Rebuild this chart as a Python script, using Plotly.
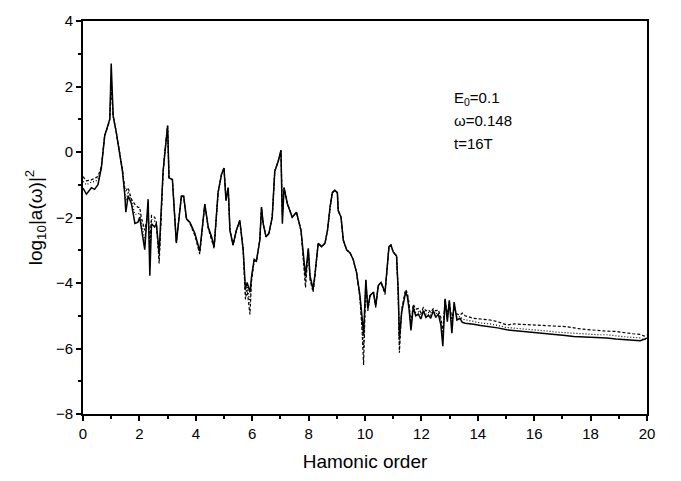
import plotly.graph_objects as go

harmonic = [0.00, 0.12, 0.30, 0.41, 0.53, 0.65, 0.77, 0.89, 0.95, 1.00, 1.07, 1.18, 1.30, 1.40, 1.48, 1.52, 1.60, 1.72, 1.84, 1.95,
            2.01, 2.07, 2.19, 2.31, 2.37, 2.43, 2.54, 2.60, 2.70, 2.84, 2.90, 3.00, 3.05, 3.17, 3.31, 3.49, 3.57, 3.67, 3.79, 3.97,
            4.14, 4.22, 4.32, 4.44, 4.56, 4.65, 4.79, 4.91, 5.00, 5.07, 5.15, 5.21, 5.32, 5.44, 5.56, 5.68, 5.76, 5.82, 5.92, 5.98,
            6.07, 6.15, 6.27, 6.33, 6.39, 6.49, 6.59, 6.71, 6.80, 6.92, 7.02, 7.07, 7.13, 7.25, 7.42, 7.57, 7.73, 7.81, 7.89, 7.99,
            8.05, 8.16, 8.22, 8.34, 8.46, 8.58, 8.67, 8.76, 8.84, 8.93, 9.02, 9.05, 9.15, 9.23, 9.35, 9.47, 9.58, 9.70, 9.82, 9.90,
            9.95, 10.03, 10.10, 10.18, 10.30, 10.38, 10.47, 10.57, 10.71, 10.85, 10.92, 11.00, 11.12, 11.18, 11.22, 11.30, 11.35, 11.44, 11.50, 11.56,
            11.63, 11.71, 11.80, 11.89, 11.98, 12.07, 12.16, 12.25, 12.33, 12.42, 12.51, 12.60, 12.69, 12.76, 12.84, 12.92, 12.99, 13.08, 13.16, 13.26,
            13.37, 13.45, 13.55, 13.70, 13.85, 14.10, 14.44, 14.70, 15.03, 15.30, 15.62, 15.90, 16.20, 16.50, 16.80, 17.10, 17.40, 17.70, 17.99, 18.30,
            18.58, 18.90, 19.17, 19.50, 19.76, 19.90, 20.00]

solid = [-1.10, -1.29, -1.09, -1.14, -1.00, -0.49, 0.50, 0.81, 1.00, 2.70, 1.10, 0.60, 0.00, -0.59, -1.29, -1.84, -1.34, -1.58, -2.18, -2.14,
         -1.99, -2.29, -2.98, -1.44, -3.78, -2.19, -2.29, -2.19, -3.08, -0.59, 0.00, 0.80, -0.79, -0.84, -2.78, -1.34, -1.34, -2.04, -2.14, -2.49,
         -3.03, -2.38, -1.59, -2.29, -2.59, -2.89, -1.24, -0.69, -0.49, -1.49, -1.09, -2.39, -2.84, -2.39, -2.09, -2.99, -4.18, -3.98, -4.28, -3.78,
         -3.28, -3.33, -2.69, -1.69, -2.19, -2.59, -2.49, -1.99, -0.59, -0.29, 0.05, -2.19, -1.09, -1.59, -1.99, -1.84, -2.39, -3.08, -3.78, -2.94,
         -3.78, -4.18, -3.78, -2.79, -2.89, -2.79, -2.39, -1.69, -1.24, -1.17, -1.24, -1.79, -1.99, -2.69, -2.99, -3.08, -3.28, -3.68, -4.38, -5.08,
         -5.60, -3.90, -4.78, -4.38, -4.28, -4.70, -4.08, -3.98, -4.28, -2.89, -2.84, -3.05, -3.18, -4.28, -5.68, -4.90, -4.68, -4.28, -4.40, -4.78,
         -5.45, -4.75, -5.00, -4.95, -5.10, -4.85, -5.05, -4.98, -5.08, -4.85, -5.05, -4.95, -5.28, -5.93, -4.48, -5.18, -4.53, -5.53, -4.58, -5.13,
         -5.08, -5.20, -5.23, -5.24, -5.26, -5.30, -5.33, -5.37, -5.43, -5.45, -5.48, -5.50, -5.53, -5.56, -5.58, -5.60, -5.63, -5.64, -5.66, -5.67,
         -5.68, -5.71, -5.73, -5.74, -5.76, -5.72, -5.68]

dotted = [-0.90, -1.00, -0.92, -0.90, -0.85, -0.47, 0.50, 0.80, 1.00, 2.30, 1.10, 0.60, 0.00, -0.57, -1.20, -1.50, -1.20, -1.50, -1.90, -1.90,
          -1.85, -2.15, -2.70, -1.70, -3.20, -2.05, -2.10, -2.15, -3.25, -0.62, 0.00, 0.80, -0.79, -0.84, -2.76, -1.34, -1.36, -2.04, -2.16, -2.52,
          -3.08, -2.38, -1.59, -2.31, -2.62, -2.91, -1.24, -0.69, -0.49, -1.45, -1.09, -2.39, -2.84, -2.39, -2.09, -2.99, -4.35, -4.10, -4.60, -3.85,
          -3.30, -3.33, -2.69, -1.69, -2.19, -2.59, -2.49, -1.99, -0.59, -0.29, 0.05, -2.00, -1.09, -1.59, -1.99, -1.84, -2.39, -3.15, -3.95, -2.96,
          -3.85, -4.23, -3.80, -2.79, -2.89, -2.79, -2.39, -1.69, -1.24, -1.17, -1.24, -1.79, -1.99, -2.69, -2.99, -3.08, -3.28, -3.68, -4.40, -5.30,
          -6.00, -3.92, -4.80, -4.38, -4.28, -4.72, -4.08, -3.98, -4.30, -2.89, -2.84, -3.05, -3.18, -4.35, -5.90, -4.85, -4.62, -4.25, -4.35, -4.70,
          -5.35, -4.70, -4.90, -4.88, -4.98, -4.82, -4.95, -4.90, -4.98, -4.82, -4.95, -4.90, -5.15, -5.70, -4.50, -5.10, -4.55, -5.30, -4.65, -5.05,
          -5.02, -5.10, -5.12, -5.15, -5.18, -5.22, -5.25, -5.30, -5.36, -5.38, -5.40, -5.42, -5.43, -5.47, -5.50, -5.52, -5.53, -5.55, -5.57, -5.58,
          -5.58, -5.62, -5.64, -5.66, -5.68, -5.74, -5.70]

dashed = [-0.75, -0.88, -0.85, -0.80, -0.75, -0.45, 0.50, 0.80, 1.00, 2.00, 1.10, 0.60, 0.00, -0.55, -1.10, -1.19, -1.09, -1.44, -1.60, -1.69,
          -1.69, -2.00, -2.39, -1.90, -2.90, -1.94, -1.99, -2.14, -3.40, -0.65, 0.00, 0.80, -0.79, -0.84, -2.74, -1.34, -1.38, -2.04, -2.18, -2.55,
          -3.12, -2.38, -1.59, -2.33, -2.65, -2.95, -1.24, -0.69, -0.49, -1.40, -1.09, -2.39, -2.84, -2.39, -2.09, -2.99, -4.50, -4.20, -4.96, -3.90,
          -3.32, -3.33, -2.69, -1.69, -2.19, -2.59, -2.49, -1.99, -0.59, -0.29, 0.05, -1.90, -1.09, -1.59, -1.99, -1.84, -2.39, -3.20, -4.14, -3.00,
          -3.90, -4.28, -3.85, -2.79, -2.89, -2.79, -2.39, -1.69, -1.24, -1.17, -1.24, -1.79, -1.99, -2.69, -2.99, -3.08, -3.28, -3.68, -4.45, -5.50,
          -6.50, -3.95, -4.85, -4.38, -4.28, -4.75, -4.08, -3.98, -4.35, -2.89, -2.84, -3.05, -3.18, -4.40, -6.13, -4.80, -4.55, -4.20, -4.30, -4.60,
          -5.25, -4.65, -4.80, -4.78, -4.90, -4.75, -4.85, -4.82, -4.90, -4.78, -4.85, -4.82, -5.05, -5.50, -4.50, -5.00, -4.58, -5.10, -4.75, -4.95,
          -4.98, -4.92, -5.00, -5.05, -5.08, -5.10, -5.13, -5.18, -5.28, -5.25, -5.26, -5.28, -5.30, -5.31, -5.32, -5.33, -5.38, -5.41, -5.43, -5.46,
          -5.47, -5.48, -5.52, -5.55, -5.57, -5.62, -5.58]

x_ticks = [0, 2, 4, 6, 8, 10, 12, 14, 16, 18, 20]
y_ticks = [-8, -6, -4, -2, 0, 2, 4]
labels = ["E<sub>0</sub>=0.1", "ω=0.148", "t=16T"]
label_y = [1.62, 0.95, 0.27]

FONT = "Liberation Sans, Arial"

fig = go.Figure()
fig.add_trace(go.Scatter(x=harmonic, y=dashed, mode="lines",
                         line=dict(color="black", width=1.2, dash="3px,2px")))
fig.add_trace(go.Scatter(x=harmonic, y=dotted, mode="lines",
                         line=dict(color="black", width=1.2, dash="1px,2px")))
fig.add_trace(go.Scatter(x=harmonic, y=solid, mode="lines",
                         line=dict(color="black", width=1.5)))

for t, yy in zip(labels, label_y):
    fig.add_annotation(x=13.1, y=yy, text=t, showarrow=False, xanchor="left", yanchor="middle",
                       font=dict(family=FONT, size=15, color="black"))

axis_common = dict(showgrid=False, zeroline=False, showline=True, linecolor="black", linewidth=2,
                   mirror=True, ticks="outside", ticklen=5, tickwidth=1.5, tickcolor="black",
                   tickfont=dict(family=FONT, size=15, color="black"))

fig.update_xaxes(range=[0, 20], tickvals=x_ticks,
                 minor=dict(dtick=1, tick0=0, ticks="outside", ticklen=3, tickwidth=1.5, tickcolor="black"),
                 title=dict(text="Hamonic order", font=dict(family=FONT, size=19, color="black"), standoff=14),
                 **axis_common)
fig.update_yaxes(range=[-8, 4], tickvals=y_ticks,
                 minor=dict(dtick=1, tick0=0, ticks="outside", ticklen=3, tickwidth=1.5, tickcolor="black"),
                 title=dict(text="log<sub>10</sub>|a(ω)|<sup>2</sup>", font=dict(family=FONT, size=19, color="black"), standoff=8),
                 **axis_common)

fig.update_layout(width=681, height=481, showlegend=False,
                  plot_bgcolor="white", paper_bgcolor="white",
                  margin=dict(l=83, r=34, t=16, b=64))

fig.write_html("out.html")
